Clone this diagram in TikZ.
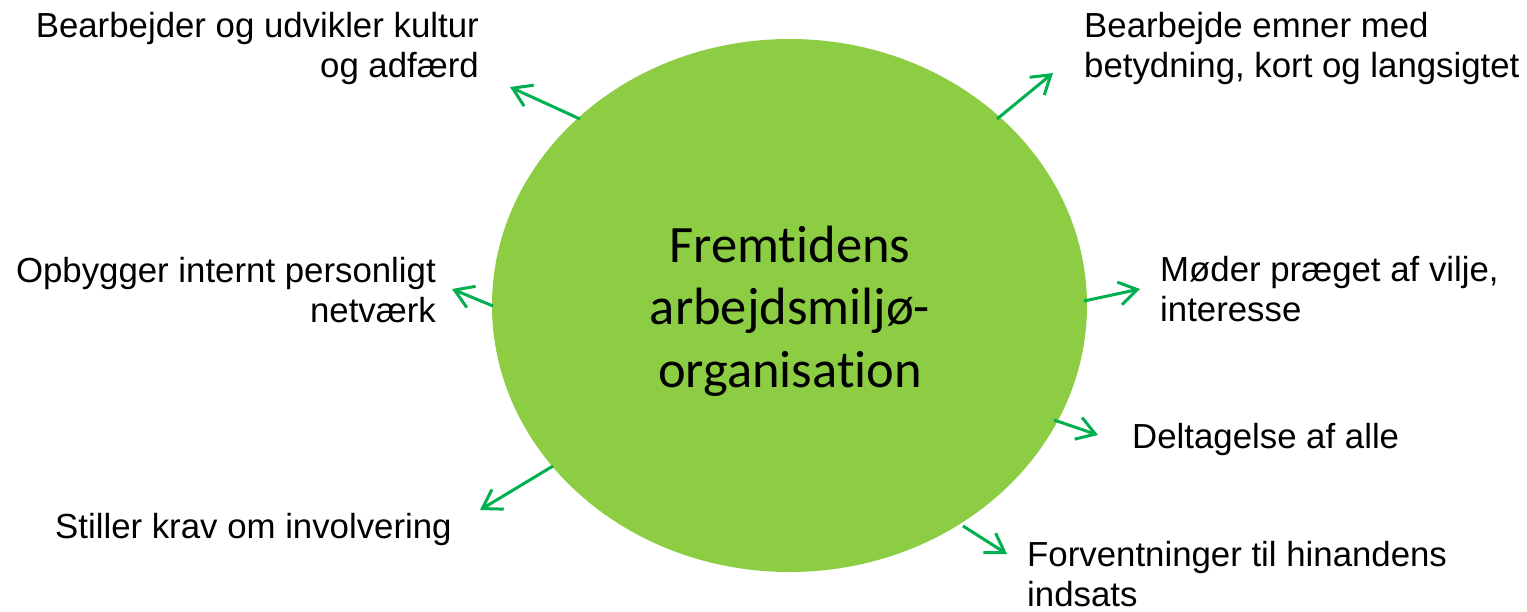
\documentclass[tikz,border=0pt]{standalone}
\usepackage{fontspec}
\setmainfont{Liberation Sans}
\newfontfamily\calib[Ligatures=NoCommon]{Carlito}
\usetikzlibrary{arrows.meta,shapes.geometric}
\definecolor{ellfill}{RGB}{140,205,68}
\definecolor{arrgreen}{RGB}{0,176,80}
\begin{document}
\begin{tikzpicture}[x=1pt,y=-1pt,
  lbl/.style={inner sep=0pt,font=\fontsize{34.8}{40}\selectfont},
  arr/.style={draw=arrgreen,line width=3pt,-{Straight Barb[length=18pt,width=23pt,line width=3pt]}}]
\useasboundingbox (0,0) rectangle (1527,611);
\node[ellipse,fill=ellfill,minimum width=595pt,minimum height=533pt,inner sep=0pt] (c) at (789.5,305.5) {};
\node[inner sep=0pt,align=center,anchor=base,font=\calib\fontsize{52.5}{62.5}\selectfont] (ct) at (790,387) {Fremtidens\\arbejdsmiljø-\\organisation};
% labels (base anchor = baseline of last line)
\node[lbl,align=right,anchor=base east] (t1) at (479,77) {Bearbejder og udvikler kultur\\og adfærd};
\node[lbl,align=left,anchor=base west] (t2) at (1084,77) {Bearbejde emner med\\betydning, kort og langsigtet};
\node[lbl,align=right,anchor=base east] (t3) at (436,322) {Opbygger internt personligt\\netværk};
\node[lbl,align=left,anchor=base west] (t4) at (1160,321) {Møder præget af vilje,\\interesse};
\node[lbl,anchor=base west] (t5) at (1132,448) {Deltagelse af alle};
\node[lbl,anchor=base west] (t6) at (55,538) {Stiller krav om involvering};
\node[lbl,align=left,anchor=base west] (t7) at (1027,606) {Forventninger til hinandens\\indsats};
% arrow endpoints
\coordinate (s1) at (580,119); \coordinate (e1) at (510,87);
\coordinate (s2) at (997,119); \coordinate (e2) at (1053,73);
\coordinate (s3) at (493,306); \coordinate (e3) at (452,289);
\coordinate (s4) at (1084,301); \coordinate (e4) at (1140,289);
\coordinate (s5) at (1054,420); \coordinate (e5) at (1098,435);
\coordinate (s6) at (553,466); \coordinate (e6) at (480,510);
\coordinate (s7) at (963,526); \coordinate (e7) at (1007,554);
\foreach \i in {1,...,7} {\draw[arr] (s\i) -- (e\i);}
\end{tikzpicture}
\end{document}
